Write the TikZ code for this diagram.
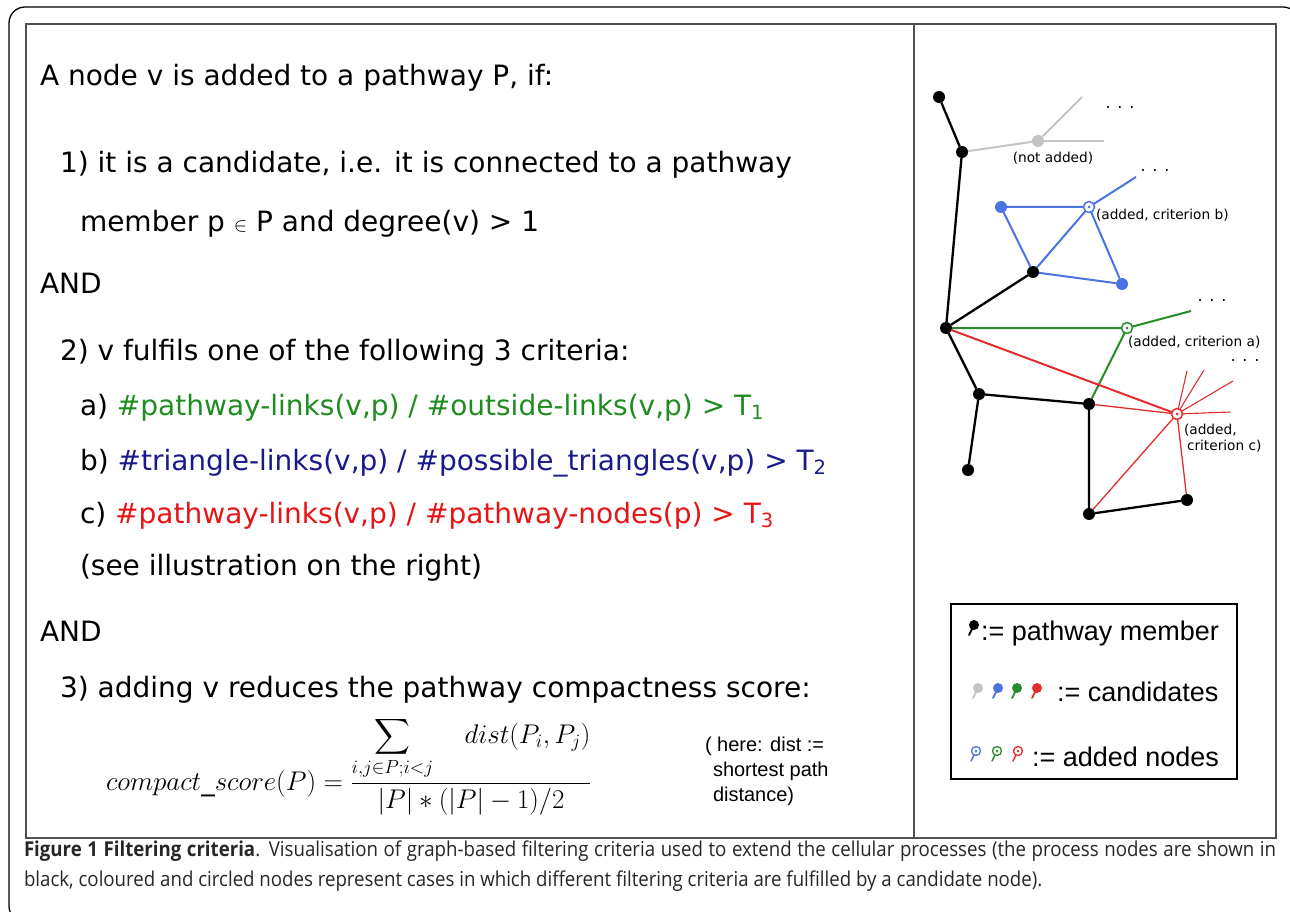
\RequirePackage{fix-cm}
\documentclass[tikz,border=0pt]{standalone}
\usepackage[no-math]{fontspec}
\usepackage{amsmath}
\setmainfont{DejaVu Sans}
\newfontfamily\arialfont{Liberation Sans}
\newfontfamily\capfont[FakeStretch=0.91]{Open Sans}
\usetikzlibrary{positioning}
\definecolor{txtgreen}{RGB}{30,140,30}
\definecolor{txtblue}{RGB}{25,25,140}
\definecolor{txtred}{RGB}{230,20,20}
\definecolor{gblue}{RGB}{75,115,225}
\definecolor{ggreen}{RGB}{40,140,40}
\definecolor{gred}{RGB}{225,45,45}
\definecolor{ggray}{RGB}{195,195,195}
\definecolor{boxgray}{RGB}{80,80,80}

\begin{document}
\begin{tikzpicture}[x=1pt, y=-1pt,
  every node/.style={inner sep=0pt, outer sep=0pt},
  txt/.style={font=\fontsize{28}{28}\selectfont, anchor=base west},
  lbl/.style={font=\fontsize{13.7}{16}\selectfont, anchor=base west},
  more/.style={font=\fontsize{16}{16}\selectfont},
  lgd/.style={font=\arialfont\fontsize{27}{27}\selectfont, anchor=base west},
  member/.style={circle, fill=black, minimum size=12pt},
  cand/.style={circle, fill=#1, minimum size=12pt},
  added/.style={circle, draw=#1, fill=white, line width=1.5pt, minimum size=11pt,
    path picture={\fill[#1] (path picture bounding box.center) circle (1.5pt);}},
  pics/pin/.style={code={
    \draw[#1, line width=1.8pt, line cap=round] (0,0) -- (-5,10);
    \fill[#1] (0,0) circle (5pt);}},
  pics/ringpin/.style={code={
    \draw[#1, line width=1.4pt, line cap=round] (-2,4) -- (-5,10);
    \draw[#1, line width=1.3pt, fill=white] (0,0) circle (4.5pt);
    \fill[#1] (0,0) circle (1.3pt);}}]
  \useasboundingbox (0,0) rectangle (1290,912);
  % outer frame and panels
  \draw[line width=1.3pt, rounded corners=16pt] (40,922) -| (9,7) -| (1299,40);
  \draw[boxgray, line width=2.5pt] (26,24) rectangle (1276,838);
  \draw[boxgray, line width=2.5pt] (914,24) -- (914,838);
  % left panel: the rules
  \node[txt] (head) at (40,86) {A node v is added to a pathway P, if:};
  \node[txt] (r1a) at (60,173) {1) it is a candidate, i.e. it is connected to a pathway};
  \node[txt] (r1b) at (80,232) {member p {\fontsize{20}{20}\selectfont$\in$} P and degree(v) > 1};
  \node[txt] (and1) at (40,293) {AND};
  \node[txt] (r2) at (60,360) {2) v fulfils one of the following 3 criteria:};
  \node[txt] (crita) at (80,415) {a) \textcolor{txtgreen}{\#pathway-links(v,p) / \#outside-links(v,p) > T\textsubscript{1}}};
  \node[txt] (critb) at (80,470) {b) \textcolor{txtblue}{\#triangle-links(v,p) / \#possible\_triangles(v,p) > T\textsubscript{2}}};
  \node[txt] (critc) at (80,523) {c) \textcolor{txtred}{\#pathway-links(v,p) / \#pathway-nodes(p) > T\textsubscript{3}}};
  \node[txt] (see) at (80,575) {(see illustration on the right)};
  \node[txt] (and2) at (40,641) {AND};
  \node[txt] (r3) at (60,697) {3) adding v reduces the pathway compactness score:};
  \node[anchor=base west, font=\fontsize{27}{33}\selectfont] (score) at (106,790)
    {$compact\_score(P) = \dfrac{\displaystyle\sum_{i,j\in P;i<j}\quad dist(P_i,P_j)}{|P|*(|P|-1)/2}$};
  \node[anchor=north west, align=left, font=\arialfont\fontsize{20}{25}\selectfont] (note) at (705,737)
    {( here: dist :=\\\hspace*{8pt}shortest path\\\hspace*{8pt}distance)};
  % right panel: graph
  \node[member] (m1) at (939,97) {};
  \node[member] (m2) at (962,152) {};
  \node[member] (m3) at (1033,272) {};
  \node[member] (m4) at (946,328) {};
  \node[member] (m5) at (979,394) {};
  \node[member] (m6) at (1089,404) {};
  \node[member] (m7) at (968,470) {};
  \node[member] (m8) at (1089,514) {};
  \node[member] (m9) at (1187,500) {};
  \node[cand=ggray] (c1) at (1038,141) {};
  \node[cand=gblue] (c2) at (1001,207) {};
  \node[cand=gblue] (c3) at (1122,284) {};
  \node[added=gblue] (ab) at (1089,207) {};
  \node[added=ggreen] (ag) at (1127,328) {};
  \node[added=gred] (ar) at (1177,414) {};
  \coordinate (e1) at (1082,97);
  \coordinate (e2) at (1104,141);
  \coordinate (e3) at (1136,177);
  \coordinate (e4) at (1191,311);
  \coordinate (r1) at (1187,371);
  \coordinate (r2) at (1204,370);
  \coordinate (r3) at (1233,381);
  \coordinate (r4) at (1230,412);
  % pathway edges
  \draw[line width=2.3pt] (m1) -- (m2) -- (m4) -- (m3);
  \draw[line width=2.3pt] (m4) -- (m5) -- (m6) -- (m8) -- (m9);
  \draw[line width=2.3pt] (m5) -- (m7);
  % candidate edges
  \draw[ggray, line width=2pt] (m2) -- (c1) -- (e1);
  \draw[ggray, line width=2pt] (c1) -- (e2);
  \draw[gblue, line width=2pt] (c2) -- (ab) -- (c3) -- (m3) -- (c2);
  \draw[gblue, line width=2pt] (m3) -- (ab) -- (e3);
  \draw[ggreen, line width=2pt] (m4) -- (ag) -- (m6);
  \draw[ggreen, line width=2pt] (ag) -- (e4);
  \draw[gred, line width=2pt] (m4) -- (ar);
  \draw[gred, line width=1.3pt] (m6) -- (ar) -- (m9);
  \draw[gred, line width=1.3pt] (m8) -- (ar);
  \foreach \r in {r1,r2,r3,r4} \draw[gred, line width=1.1pt] (ar) -- (\r);
  \node[lbl, anchor=base] (na) at (1053,163) {(not added)};
  \node[lbl] (lb) at (1096,219) {(added, criterion b)};
  \node[lbl] (la) at (1128,346) {(added, criterion a)};
  \node[lbl, align=left, anchor=north west] (lc) at (1184,424) {(added,\\\hspace*{3pt}criterion c)};
  \node[more] (d1) at (1120,108) {. . .};
  \node[more] (d2) at (1155,171) {. . .};
  \node[more] (d3) at (1212,301) {. . .};
  \node[more] (d4) at (1245,361) {. . .};
  % legend
  \draw[line width=1.8pt] (951,604) rectangle (1237,779);
  \pic at (974,625) {pin=black};
  \node[lgd] (lm) at (981,640) {:= pathway member};
  \pic at (978,688) {pin=ggray};
  \pic at (998,688) {pin=gblue};
  \pic at (1017,688) {pin=ggreen};
  \pic at (1037,688) {pin=gred};
  \node[lgd] (lc2) at (1057,701) {:= candidates};
  \pic at (976,751) {ringpin=gblue};
  \pic at (997,751) {ringpin=ggreen};
  \pic at (1018,751) {ringpin=gred};
  \node[lgd] (la2) at (1032,766) {:= added nodes};
  % caption
  \node[anchor=north west, text width=1252pt, align=justify, text=black!85,
        font=\capfont\fontsize{20.5}{30}\selectfont] (cap) at (24,841)
    {\textbf{Figure 1 Filtering criteria}. Visualisation of graph-based filtering criteria used to extend the cellular processes (the process nodes are shown in\linebreak black, coloured and circled nodes represent cases in which different filtering criteria are fulfilled by a candidate node).};
\end{tikzpicture}
\end{document}
